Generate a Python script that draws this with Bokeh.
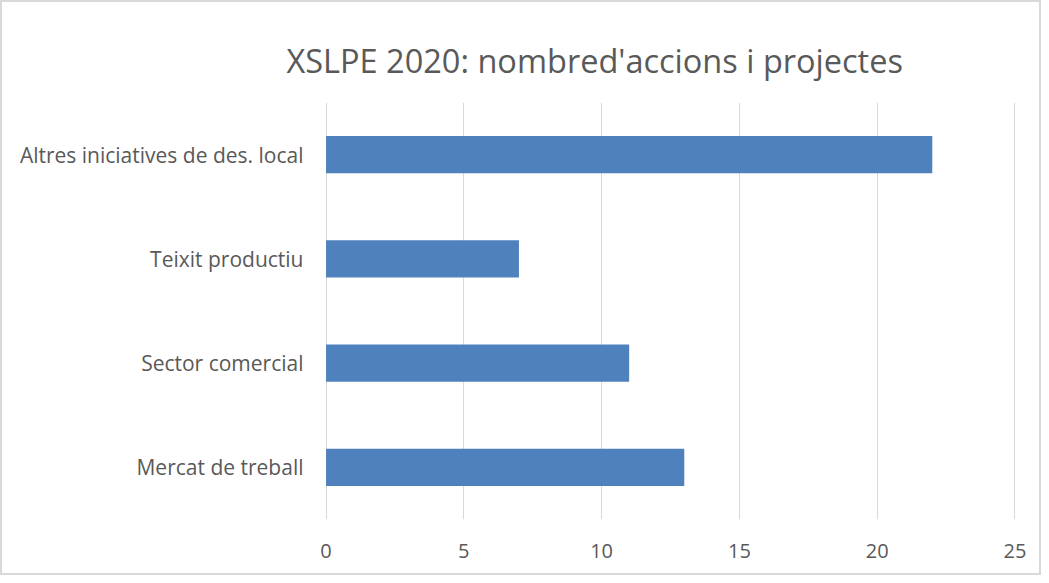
from bokeh.plotting import figure
from bokeh.models import ColumnDataSource, FactorRange, Range1d, FixedTicker
from bokeh.embed import file_html
from bokeh.resources import INLINE

categories = ["Mercat de treball", "Sector comercial", "Teixit productiu", "Altres iniciatives de des. local"]
values = [13, 11, 7, 22]
x_ticks = [0, 5, 10, 15, 20, 25]
title_text = "XSLPE 2020: nombred'accions i projectes"

src = ColumnDataSource(dict(cat=categories, val=values))

p = figure(width=1041, height=575, output_backend="svg", toolbar_location=None,
           y_range=FactorRange(factors=categories), x_range=Range1d(-0.02, 25.02),
           min_border_left=323, min_border_right=28, min_border_top=100, min_border_bottom=58)

p.hbar(y="cat", right="val", left=0, height=0.355, source=src,
       fill_color="#4F81BD", line_color=None)

p.title.text = title_text
p.title.text_font = "Open Sans"
p.title.text_font_size = "32.5px"
p.title.text_font_style = "normal"
p.title.text_color = "#595959"
p.title.align = "left"
p.title.offset = -39
p.title.standoff = 40

p.outline_line_color = None
p.background_fill_color = "white"
p.border_fill_color = "white"

p.xaxis.ticker = FixedTicker(ticks=x_ticks)
p.xaxis.axis_line_color = None
p.xaxis.major_tick_line_color = None
p.xaxis.minor_tick_line_color = None
p.xaxis.major_label_standoff = 18
p.xaxis.major_label_text_font = "Open Sans"
p.xaxis.major_label_text_font_size = "20px"
p.xaxis.major_label_text_color = "#595959"

p.yaxis.axis_line_color = None
p.yaxis.major_tick_line_color = None
p.yaxis.minor_tick_line_color = None
p.yaxis.major_label_standoff = 16
p.yaxis.major_label_text_font = "Open Sans"
p.yaxis.major_label_text_font_size = "21px"
p.yaxis.major_label_text_color = "#595959"

p.xgrid.grid_line_color = "#D9D9D9"
p.xgrid.grid_line_width = 1
p.ygrid.grid_line_color = None

p.styles = {"border": "2px solid #D9D9D9"}

open("out.html", "w").write(file_html(p, INLINE))
